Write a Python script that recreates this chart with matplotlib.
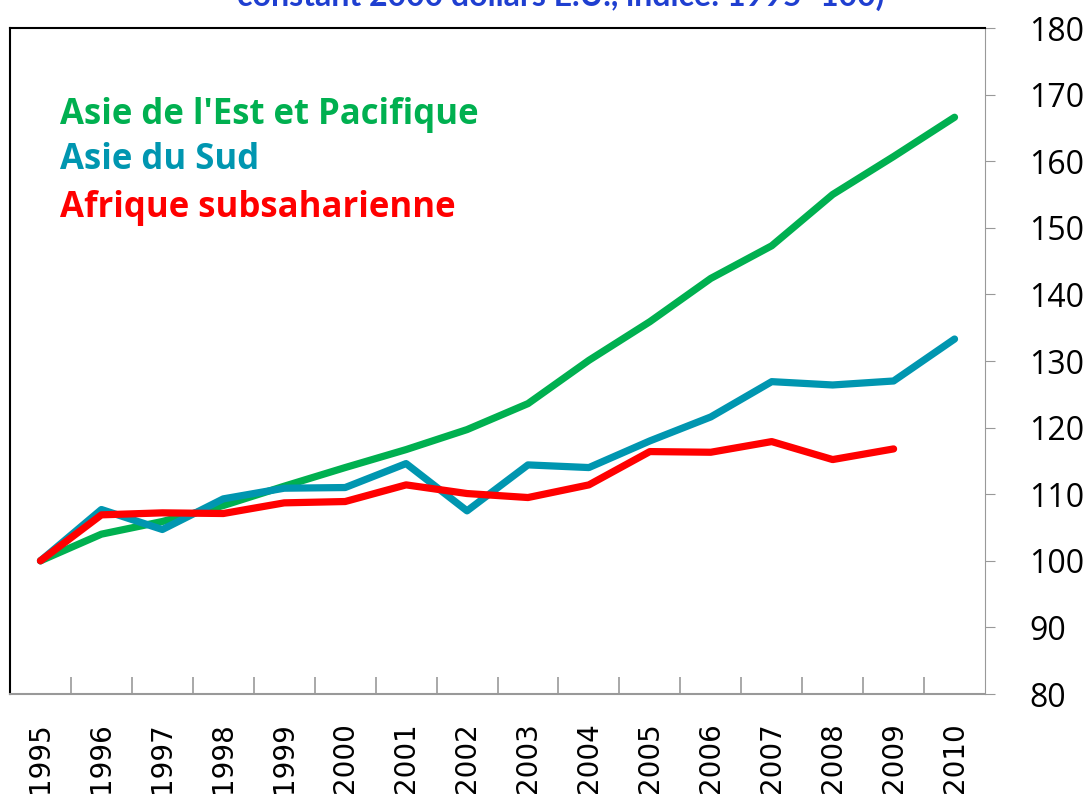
import numpy as np
import matplotlib
matplotlib.use("Agg")
from matplotlib import pyplot as plt
from matplotlib.ticker import FixedLocator

years = [str(y) for y in range(1995, 2011)]
east_asia = [100, 104.0, 105.9, 108.3, 111.2, 114.0, 116.7, 119.7, 123.6,
             130.1, 135.9, 142.4, 147.3, 155.0, 160.7, 166.6]
south_asia = [100, 107.7, 104.7, 109.3, 110.9, 111.0, 114.6, 107.5, 114.4,
              114.0, 118.0, 121.6, 126.9, 126.4, 127.0, 133.3]
ssa = [100, 106.9, 107.2, 107.1, 108.7, 108.9, 111.4, 110.1, 109.5,
       111.4, 116.4, 116.3, 117.9, 115.2, 116.8]

names = ["Asie de l'Est et Pacifique", "Asie du Sud", "Afrique subsaharienne"]
colors = ["#00B050", "#0096B0", "#FF0000"]
title = "constant 2000 dollars E.U., indice: 1995=100)"

fig = plt.figure(figsize=(10.88, 7.97), dpi=100)
ax = fig.add_axes([10/1088, 1-694/797, 975/1088, 666/797])

x = np.arange(len(years))
for vals, c in zip([east_asia, south_asia, ssa], colors):
    ax.plot(x[:len(vals)], vals, color=c, lw=5.2, solid_capstyle='round',
            solid_joinstyle='round')

ax.set_xlim(-0.5, len(years) - 0.5)
ax.set_ylim(80, 180)
ax.set_yticks(np.arange(80, 181, 10))
ax.yaxis.tick_right()
ax.tick_params(axis='y', direction='out', length=7, color='#999999',
               labelsize=23, pad=25)
for lab in ax.get_yticklabels():
    lab.set_family(['Open Sans', 'DejaVu Sans'])

ax.set_xticks(x)
ax.set_xticklabels(years, rotation=90, fontsize=20, va='top')
ax.tick_params(axis='x', which='major', length=0, pad=20)
ax.xaxis.set_minor_locator(FixedLocator(np.arange(0.5, len(years) - 0.5, 1)))
ax.tick_params(axis='x', which='minor', direction='in', length=12,
               color='#999999', width=1.2)

ax.spines['left'].set_color('black')
ax.spines['left'].set_linewidth(1.5)
ax.spines['top'].set_color('black')
ax.spines['top'].set_linewidth(1.5)
ax.spines['right'].set_color('#999999')
ax.spines['bottom'].set_color('#999999')
ax.spines['bottom'].set_linewidth(1.5)

for i, (n, c) in enumerate(zip(names, colors)):
    fig.text(60/1088, 1 - [115, 160, 208][i]/797, n, color=c,
             fontweight='bold', fontsize=25, family=['Open Sans', 'DejaVu Sans'],
             va='center', ha='left')

fig.text(0.515, 1 - 6/797, title, color='#1F3FD0', fontweight='bold',
         fontsize=23, family=['Lato', 'DejaVu Sans'], ha='center', va='baseline')

fig.savefig("out.png", dpi=100)
